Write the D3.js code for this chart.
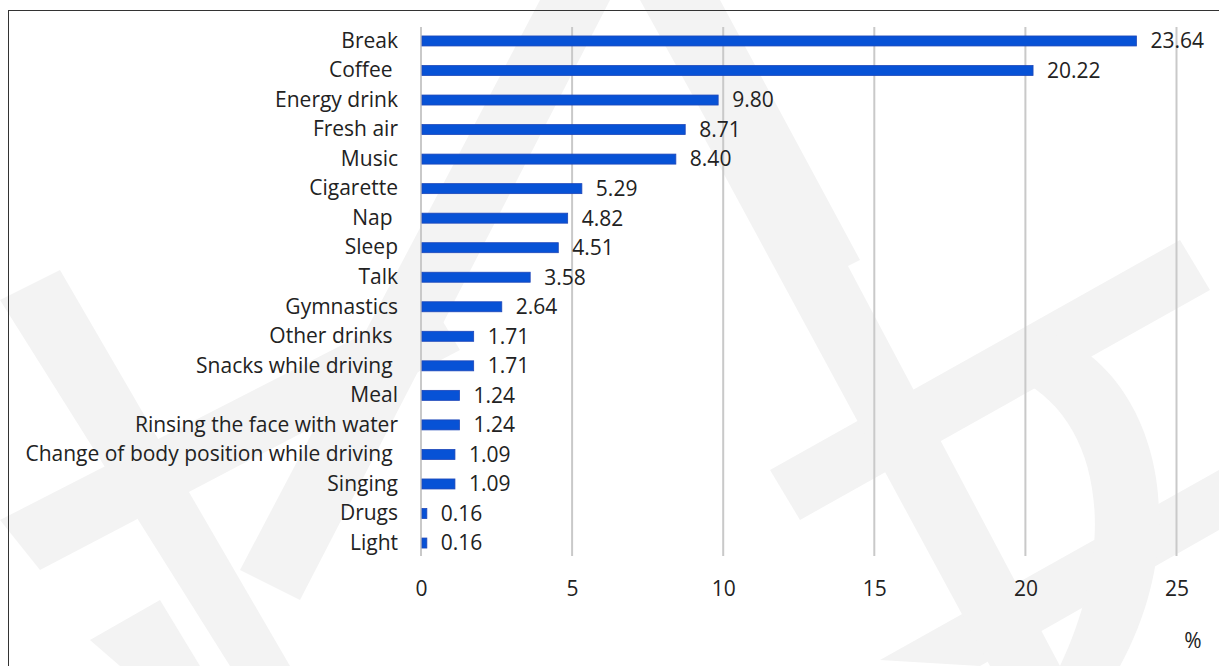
<!DOCTYPE html>
<html>
<head>
<meta charset="utf-8">
<script src="https://cdn.jsdelivr.net/npm/d3@7"></script>
<style>
  body { margin: 0; background: #fff; }
  text { font-family: "Open Sans", Lato, sans-serif; }
</style>
</head>
<body>
<svg id="chart-svg" width="1219" height="666"></svg>
<script>
const categories = ["Break", "Coffee ", "Energy drink", "Fresh air", "Music", "Cigarette", "Nap ", "Sleep", "Talk",
  "Gymnastics", "Other drinks ", "Snacks while driving ", "Meal", "Rinsing the face with water",
  "Change of body position while driving ", "Singing", "Drugs", "Light"];
const values = [23.64, 20.22, 9.80, 8.71, 8.40, 5.29, 4.82, 4.51, 3.58, 2.64, 1.71, 1.71, 1.24, 1.24, 1.09, 1.09, 0.16, 0.16];
const xTicks = [0, 5, 10, 15, 20, 25];
const unitLabel = "%";

const svg = d3.select("#chart-svg");
const margin = { left: 421, top: 27, bottom: 556 };
const fontSize = "21px";

// watermark shapes in the background
const wm = svg.append("g").attr("fill", "#f3f3f3");
[
  "M0,300 L60,270 L290,666 L230,666 Z",
  "M0,520 L430,300 L460,350 L40,570 Z",
  "M90,640 L160,600 L200,666 L120,666 Z",
  "M540,0 L610,0 L300,600 L240,570 Z",
  "M640,0 L720,0 L860,260 L800,290 Z",
  "M770,470 L1180,240 L1210,290 L800,520 Z",
  "M880,660 L1219,470 L1219,530 L980,666 Z",
  "M700,130 L760,100 L1060,666 L990,666 Z",
  "M1040,330 C1150,360 1200,520 1120,666 L1060,666 C1120,540 1100,420 1020,380 Z"
].forEach(p => wm.append("path").attr("d", p));

// frame
svg.append("rect")
  .attr("x", 8.5).attr("y", 10.5)
  .attr("width", 1230).attr("height", 700)
  .attr("fill", "none").attr("stroke", "#333").attr("stroke-width", 1);

const x = d3.scaleLinear()
  .domain([0, 25])
  .range([margin.left, margin.left + 25 * 30.22]);

const y = d3.scaleBand()
  .domain(categories)
  .range([26.2, 557.8]);

const barH = 10;

// gridlines
svg.append("g")
  .selectAll("line")
  .data(xTicks)
  .join("line")
  .attr("x1", d => x(d)).attr("x2", d => x(d))
  .attr("y1", margin.top).attr("y2", margin.bottom)
  .attr("stroke", "#c9c9c9").attr("stroke-width", 2);

// x axis labels
const xAxis = svg.append("g")
  .attr("transform", `translate(0, 575)`)
  .call(d3.axisBottom(x).tickValues(xTicks).tickSize(0).tickPadding(6));
xAxis.select(".domain").remove();
xAxis.selectAll("text").style("font-size", fontSize).attr("fill", "#222");

// bars
svg.append("g")
  .selectAll("rect")
  .data(values)
  .join("rect")
  .attr("x", x(0) + 1)
  .attr("y", (d, i) => y(categories[i]) + y.bandwidth() / 2 - barH / 2)
  .attr("width", d => x(d) - x(0))
  .attr("height", barH)
  .attr("fill", "#0752d6")
  .attr("stroke", "#1f47b8")
  .attr("stroke-width", 0.8);

// value labels
svg.append("g")
  .selectAll("text")
  .data(values)
  .join("text")
  .attr("x", d => x(d) + 15)
  .attr("y", (d, i) => y(categories[i]) + y.bandwidth() / 2)
  .attr("dy", "0.35em")
  .style("font-size", fontSize)
  .attr("fill", "#222")
  .text(d => d.toFixed(2));

// category labels
const yAxis = svg.append("g")
  .attr("transform", `translate(${margin.left - 23}, 0)`)
  .call(d3.axisLeft(y).tickSize(0).tickPadding(0));
yAxis.select(".domain").remove();
yAxis.selectAll("text")
  .style("font-size", fontSize)
  .style("white-space", "pre")
  .attr("xml:space", "preserve")
  .attr("fill", "#222");

svg.append("text")
  .attr("x", 1193).attr("y", 648)
  .attr("text-anchor", "middle")
  .style("font-size", fontSize)
  .attr("fill", "#222")
  .text(unitLabel);
</script>
</body>
</html>
